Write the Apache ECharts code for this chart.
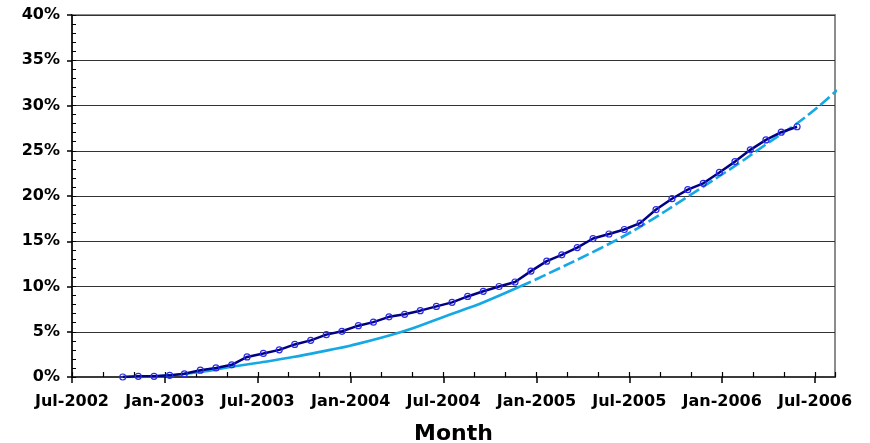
<!DOCTYPE html>
<html>
<head>
<meta charset="utf-8">
<script src="https://cdn.jsdelivr.net/npm/echarts@6/dist/echarts.min.js"></script>
<style>
  html, body { margin: 0; padding: 0; background: #fff; }
  #main { width: 870px; height: 443px; }
</style>
</head>
<body>
<div id="main"></div>
<script>
// x values are months counted from Jul-2002
const tickLabels = ['Jul-2002', 'Jan-2003', 'Jul-2003', 'Jan-2004', 'Jul-2004', 'Jan-2005', 'Jul-2005', 'Jan-2006', 'Jul-2006']

const actualMonths = [3.28, 4.28, 5.30, 6.31, 7.26, 8.29, 9.30, 10.32, 11.31, 12.36, 13.39, 14.39, 15.42, 16.43, 17.44,
  18.50, 19.47, 20.48, 21.49, 22.50, 23.54, 24.55, 25.56, 26.57, 27.59, 28.62, 29.65, 30.67, 31.64, 32.64,
  33.66, 34.69, 35.68, 36.70, 37.73, 38.76, 39.78, 40.78, 41.82, 42.83, 43.82, 44.83, 45.82, 46.84]
const actualValues = [0, 0.07, 0.07, 0.18, 0.35, 0.75, 1.0, 1.35, 2.22, 2.6, 3.0, 3.6, 4.05, 4.68, 5.05,
  5.67, 6.06, 6.65, 6.93, 7.33, 7.8, 8.25, 8.9, 9.47, 10.0, 10.5, 11.7, 12.8, 13.5, 14.3,
  15.3, 15.8, 16.3, 17.0, 18.5, 19.7, 20.7, 21.4, 22.6, 23.8, 25.1, 26.2, 27.05, 27.65]

// fitted trend, solid part and dashed part
const fitMonths = [3.28, 5.69, 8.27, 10.21, 12.15, 14.28, 16.67, 17.96, 21.32, 23.78, 25.07, 26.36, 28.94]
const fitValues = [0, 0.1, 0.55, 1.1, 1.6, 2.2, 3.0, 3.45, 5.0, 6.5, 7.3, 8.1, 10.0]
const trendMonths = [28.94, 30.24, 34.11, 36.70, 39.93, 43.16, 44.32, 45.87, 46.58, 48.13, 49.42]
const trendValues = [10.0, 11.0, 14.2, 16.6, 20.1, 23.7, 25.1, 26.9, 27.7, 29.75, 31.7]

const pair = (xs, ys) => xs.map((x, i) => [x, ys[i]])

const chart = echarts.init(document.getElementById('main'))
const font = 'DejaVu Sans'

const option = {
  animation: false,
  grid: {
    left: 72,
    right: 35,
    top: 15,
    bottom: 66,
    outerBoundsMode: 'none',
    containLabel: false,
    show: true,
    borderColor: '#8c8c8c',
    borderWidth: 2
  },
  xAxis: [
    {
      type: 'value',
      min: 0,
      max: 49.29,
      interval: 6,
      position: 'bottom',
      name: 'Month',
      nameLocation: 'middle',
      nameGap: 46,
      nameTextStyle: { color: '#000', fontFamily: font, fontWeight: 'bold', fontSize: 22 },
      axisLine: { show: true, lineStyle: { color: '#3a3a3a', width: 2 } },
      axisTick: { show: true, inside: false, length: 6, lineStyle: { color: '#000', width: 1.5 } },
      axisLabel: {
        color: '#000',
        fontFamily: font,
        fontWeight: 'bold',
        fontSize: 16,
        margin: 17,
        showMaxLabel: false,
        formatter: v => (v % 6 === 0 ? tickLabels[v / 6] : '')
      },
      splitLine: { show: false }
    },
    {
      // minor ticks pointing up into the plot
      type: 'value',
      min: 0,
      max: 49.29,
      interval: 2,
      position: 'bottom',
      axisLine: { show: false },
      axisTick: { show: true, inside: true, length: 5, lineStyle: { color: '#000', width: 1.2 } },
      axisLabel: { show: false },
      splitLine: { show: false }
    }
  ],
  yAxis: [
    {
      type: 'value',
      min: 0,
      max: 40,
      interval: 5,
      position: 'left',
      axisLine: { show: true, lineStyle: { color: '#000', width: 1.5 } },
      axisTick: { show: true, inside: false, length: 5, lineStyle: { color: '#000', width: 1.5 } },
      axisLabel: {
        color: '#000',
        fontFamily: font,
        fontWeight: 'bold',
        fontSize: 16,
        margin: 12,
        formatter: v => v + '%'
      },
      splitLine: { show: true, lineStyle: { color: '#333', width: 1.2 } }
    },
    {
      type: 'value',
      min: 0,
      max: 40,
      interval: 1,
      position: 'left',
      axisLine: { show: false },
      axisTick: { show: true, inside: true, length: 4, lineStyle: { color: '#000', width: 1 } },
      axisLabel: { show: false },
      splitLine: { show: false }
    }
  ],
  series: [
    {
      name: 'fit',
      type: 'line',
      smooth: 0.4,
      showSymbol: false,
      lineStyle: { color: '#16a8e4', width: 2.6 },
      data: pair(fitMonths, fitValues)
    },
    {
      name: 'trend',
      type: 'line',
      smooth: 0.4,
      showSymbol: false,
      clip: false,
      lineStyle: { color: '#16a8e4', width: 2.6, type: [12, 4] },
      data: pair(trendMonths, trendValues)
    },
    {
      name: 'actual',
      type: 'line',
      symbol: 'circle',
      symbolSize: 6,
      lineStyle: { color: '#000080', width: 2.5 },
      itemStyle: { color: 'rgba(255,255,255,0)', borderColor: '#2a2ae8', borderWidth: 1.2 },
      data: pair(actualMonths, actualValues)
    }
  ]
}

chart.setOption(option)
</script>
</body>
</html>
